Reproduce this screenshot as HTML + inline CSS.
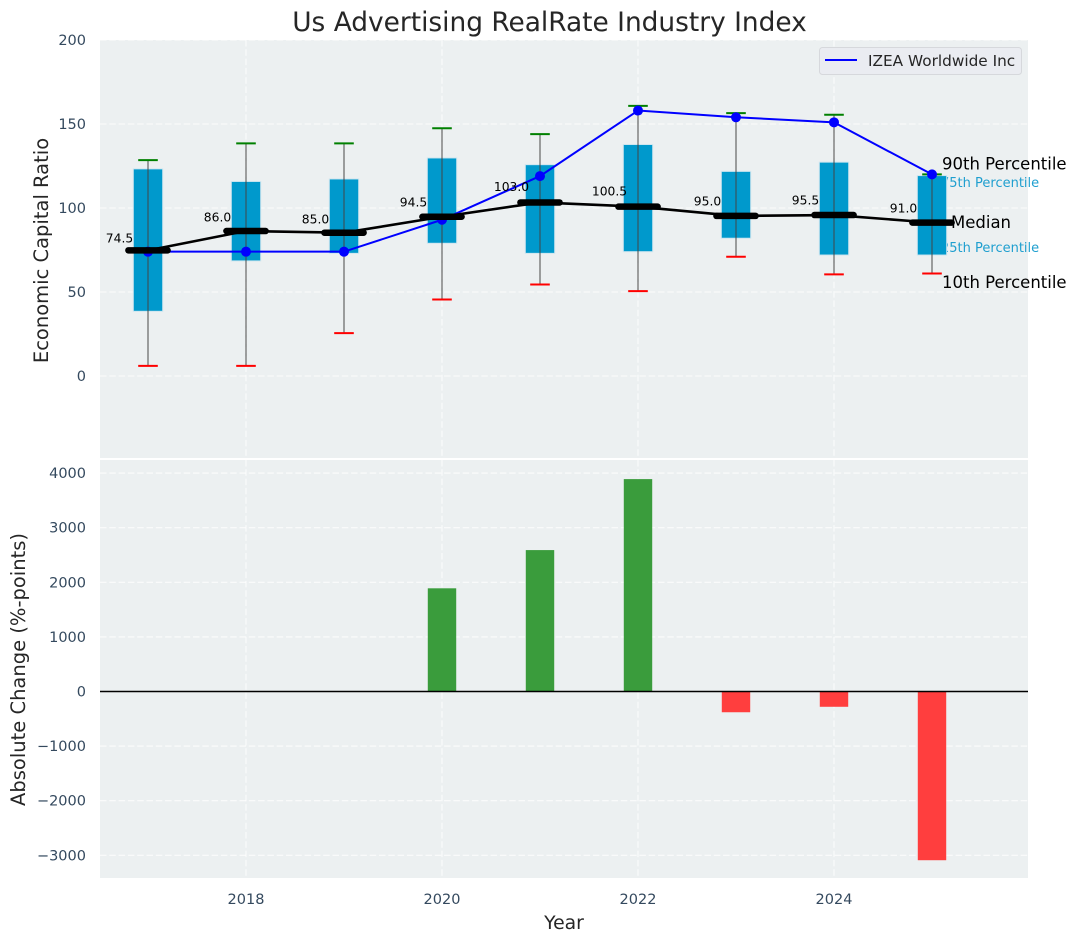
<!DOCTYPE html>
<html lang="en">
<head>
<meta charset="utf-8">
<title>Us Advertising RealRate Industry Index</title>
<style>
html,body{margin:0;padding:0;background:#fff}
svg{display:block;font-family:"DejaVu Sans","Liberation Sans",sans-serif}
</style>
</head>
<body>
<svg id="chart" xmlns="http://www.w3.org/2000/svg" width="1077" height="942" viewBox="0 0 1077 942"></svg>
<script>
const years = [2017, 2018, 2019, 2020, 2021, 2022, 2023, 2024, 2025];
const p90 = [128.5, 138.5, 138.5, 147.5, 144, 160.8, 156.5, 155.5, 120];
const p75 = [123, 115.5, 117, 129.5, 125.5, 137.5, 121.5, 127, 119];
const median = [74.5, 86, 85, 94.5, 103, 100.5, 95, 95.5, 91];
const p25 = [38.5, 68.5, 73, 79, 73, 74, 82, 72, 72];
const p10 = [6, 6, 25.5, 45.5, 54.5, 50.5, 71, 60.5, 61];
const company = [74, 74, 74, 93, 119, 158, 154, 151, 120];
const changeYears = [2020, 2021, 2022, 2023, 2024, 2025];
const changeValues = [1890, 2590, 3890, -380, -280, -3090];
const xTicks = [2018, 2020, 2022, 2024];
const topTicks = [0, 50, 100, 150, 200];
const bottomTicks = [-3000, -2000, -1000, 0, 1000, 2000, 3000, 4000];

const svg = document.getElementById('chart');
const NS = 'http://www.w3.org/2000/svg';
const xScale = v => 148 + (v - 2017) * 98;
const yTop = v => 376 - v * 1.68;
const yBottom = v => 691.5 - v * 0.0546;
const BOX = 0.3, CAP = 0.15, MED = 0.2;
const DASH = '6.5 2.8';
const GRID_OPACITY = 0.8;

function mk(tag, attrs, text) {
  const el = document.createElementNS(NS, tag);
  for (const k in attrs) el.setAttribute(k, attrs[k]);
  if (text !== undefined) el.textContent = text;
  svg.appendChild(el);
  return el;
}
const fmtTick = v => (v < 0 ? '\u2212' + Math.abs(v) : String(v));

/* Panels */
let el = mk('rect', {x: 100, y: 40, width: 928, height: 418, fill: '#ecf0f1'});


el = mk('rect', {x: 100, y: 460, width: 928, height: 418, fill: '#ecf0f1'});



/* Grid */
xTicks.forEach(t => {
  let g = mk('line', {x1: xScale(t), x2: xScale(t), y1: 40, y2: 458, stroke: '#fff', 'stroke-width': 1.1, 'stroke-dasharray': DASH, opacity: GRID_OPACITY});
  
  
  g = mk('line', {x1: xScale(t), x2: xScale(t), y1: 460, y2: 878, stroke: '#fff', 'stroke-width': 1.1, 'stroke-dasharray': DASH, opacity: GRID_OPACITY});
  
  
  const lab = mk('text', {x: xScale(t), y: 904, 'text-anchor': 'middle', 'font-size': 14.5, fill: '#34495e'}, String(t));
  
  
});
topTicks.forEach(t => {
  const g = mk('line', {x1: 100, x2: 1028, y1: yTop(t), y2: yTop(t), stroke: '#fff', 'stroke-width': 1.1, 'stroke-dasharray': DASH, opacity: GRID_OPACITY});
  
  
  const lab = mk('text', {x: 86, y: yTop(t) + 5, 'text-anchor': 'end', 'font-size': 14.5, fill: '#34495e'}, fmtTick(t));
  
  
});
bottomTicks.forEach(t => {
  const g = mk('line', {x1: 100, x2: 1028, y1: yBottom(t), y2: yBottom(t), stroke: '#fff', 'stroke-width': 1.1, 'stroke-dasharray': DASH, opacity: GRID_OPACITY});
  
  
  const lab = mk('text', {x: 86, y: yBottom(t) + 5, 'text-anchor': 'end', 'font-size': 14.5, fill: '#34495e'}, fmtTick(t));
  
  
});

/* Small percentile annotations sit under the last box */
const lastX = xScale(years[years.length - 1]);
el = mk('text', {x: lastX + 9, y: yTop(p75[8]) + 11, 'font-size': 13, fill: '#1f9fcf'}, '75th Percentile');


el = mk('text', {x: lastX + 9, y: yTop(p25[8]) - 3, 'font-size': 13, fill: '#1f9fcf'}, '25th Percentile');



/* Boxes, whiskers, caps */
years.forEach((yr, i) => {
  const cx = xScale(yr), hw = xScale(yr + BOX / 2) - cx, chw = xScale(yr + CAP / 2 + 0.025) - cx;
  const b = mk('rect', {x: cx - hw, y: yTop(p75[i]) - 0.5, width: hw * 2, height: yTop(p25[i]) - yTop(p75[i]) + 0.5, fill: '#0099cc', stroke: '#cfe6ef', 'stroke-width': 1});
  
  
  const w = mk('line', {x1: cx, x2: cx, y1: yTop(p90[i]), y2: yTop(p10[i]), stroke: '#444', 'stroke-opacity': 0.65, 'stroke-width': 1.5});
  
  
  const c1 = mk('line', {x1: cx - chw, x2: cx + chw, y1: yTop(p90[i]), y2: yTop(p90[i]), stroke: '#008000', 'stroke-width': 2});
  
  
  const c2 = mk('line', {x1: cx - chw, x2: cx + chw, y1: yTop(p10[i]), y2: yTop(p10[i]), stroke: '#f00', 'stroke-width': 2});
  
  
});

/* Company line */
el = mk('polyline', {points: years.map((yr, i) => xScale(yr) + ',' + yTop(company[i])).join(' '), fill: 'none', stroke: '#0000ff', 'stroke-width': 2});


years.forEach((yr, i) => {
  const p = mk('circle', {cx: xScale(yr), cy: yTop(company[i]), r: 5, fill: '#0000ff'});
  
  
});

/* Median line */
el = mk('polyline', {points: years.map((yr, i) => xScale(yr) + ',' + (yTop(median[i]) - 0.5)).join(' '), fill: 'none', stroke: '#000', 'stroke-width': 2.6});


years.forEach((yr, i) => {
  const cx = xScale(yr), hw = xScale(yr + MED) - cx;
  const m = mk('line', {x1: cx - hw, x2: cx + hw, y1: yTop(median[i]) - 0.5, y2: yTop(median[i]) - 0.5, stroke: '#000', 'stroke-width': 6.5, 'stroke-linecap': 'round'});
  
  
  const t = mk('text', {x: cx - 28.5, y: yTop(median[i] * 1.068), 'text-anchor': 'middle', 'font-size': 12.3, fill: '#000'}, median[i].toFixed(1));
  
  
});

/* Large annotations */
el = mk('text', {x: lastX + 10, y: yTop(p90[8]) - 5, 'font-size': 16.5, fill: '#000'}, '90th Percentile');


el = mk('text', {x: lastX + 19, y: yTop(median[8]) + 5, 'font-size': 16.5, fill: '#000'}, 'Median');


el = mk('text', {x: lastX + 10, y: yTop(p10[8]) + 14.5, 'font-size': 16.5, fill: '#000'}, '10th Percentile');



/* Bars */
changeYears.forEach((yr, i) => {
  const v = changeValues[i], cx = xScale(yr), hw = xScale(yr + 0.145) - cx;
  const top = Math.min(yBottom(v), yBottom(0)), h = Math.abs(yBottom(v) - yBottom(0));
  const b = mk('rect', {x: cx - hw, y: top, width: hw * 2, height: h, fill: v >= 0 ? '#3a9c3c' : '#ff3e3e'});
  
  
});
el = mk('line', {x1: 100, x2: 1028, y1: yBottom(0), y2: yBottom(0), stroke: '#000', 'stroke-width': 1.4});



/* Legend */
el = mk('rect', {x: 819.5, y: 47.5, width: 202, height: 27, rx: 3, fill: '#eaecf1', stroke: '#d6d8dc', 'stroke-width': 1});


el = mk('line', {x1: 825, x2: 857, y1: 60, y2: 60, stroke: '#0000ff', 'stroke-width': 2});


el = mk('text', {x: 868, y: 66, 'font-size': 15.3, fill: '#262626'}, 'IZEA Worldwide Inc');



/* Titles */
el = mk('text', {x: 549.5, y: 31, 'text-anchor': 'middle', 'font-size': 26.4, fill: '#262626'}, 'Us Advertising RealRate Industry Index');


el = mk('text', {x: 564, y: 929, 'text-anchor': 'middle', 'font-size': 18.8, fill: '#262626'}, 'Year');


el = mk('text', {transform: 'translate(48,250.5) rotate(-90)', 'text-anchor': 'middle', 'font-size': 19.5, fill: '#262626'}, 'Economic Capital Ratio');


el = mk('text', {transform: 'translate(25,669.5) rotate(-90)', 'text-anchor': 'middle', 'font-size': 19.5, fill: '#262626'}, 'Absolute Change (%-points)');


</script>
</body>
</html>
